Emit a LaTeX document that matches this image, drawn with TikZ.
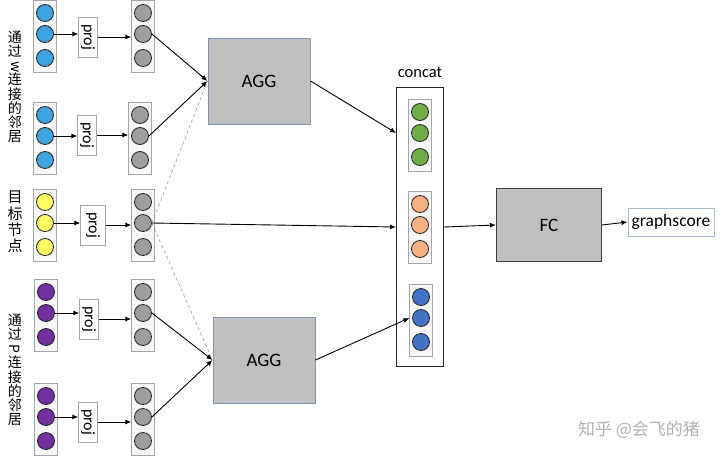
\documentclass[tikz,border=0pt]{standalone}
\usepackage{fontspec}
\setmainfont{Carlito}
\newfontfamily\cjk{Noto Sans CJK SC}
\usetikzlibrary{arrows.meta,positioning}
\definecolor{wblue}{HTML}{3FA3DF}
\definecolor{tyellow}{HTML}{FFFF66}
\definecolor{ppurple}{HTML}{7030A0}
\definecolor{hgray}{HTML}{9E9E9E}
\definecolor{cgreen}{HTML}{70AD47}
\definecolor{corange}{HTML}{F4B183}
\definecolor{cblue}{HTML}{4472C4}
\definecolor{aggline}{HTML}{8497B0}
\definecolor{scoreline}{HTML}{A9BCD0}
% column of three units: name, x, y of middle unit, colour
\newcommand{\vecbox}[4]{%
  \node[vbox] (#1) at (#2,#3+2) {};
  \node[dot,fill=#4] (#1-1) at (#2,#3-21) {};
  \node[dot,fill=#4] (#1-2) at (#2,#3) {};
  \node[dot,fill=#4] (#1-3) at (#2,#3+24) {};
}
\newcommand{\sideways}[1]{\rotatebox[origin=c]{-90}{#1}}

\begin{document}
\begin{tikzpicture}[
    x=1pt, y=-1pt,
    font=\fontsize{12}{14}\selectfont,
    vbox/.style={draw=black!35,fill=black!3,minimum width=23pt,minimum height=72pt,inner sep=0pt},
    dot/.style={circle,draw=black!85,line width=0.8pt,minimum size=17pt,inner sep=0pt},
    projbox/.style={draw=black!35,fill=white,minimum width=19pt,minimum height=40pt,inner sep=0pt,font=\fontsize{16}{18}\selectfont},
    aggbox/.style={draw=aggline,fill=black!25,line width=1pt,minimum width=102pt,minimum height=86pt,font=\fontsize{19}{21}\selectfont},
    arrow/.style={-{Latex[length=6pt,width=5pt]},line width=0.9pt},
    link/.style={black!40,dashed,line width=0.6pt},
    side/.style={font=\cjk\fontsize{14}{14.2}\selectfont,align=center,inner sep=0pt}
  ]
    \useasboundingbox (0,0) rectangle (720,458);

    % neighbours through w
    \vecbox{w1in}{45}{34}{wblue}
    \node[projbox] (w1proj) at (88,37) {\sideways{proj}};
    \vecbox{w1out}{143}{34}{hgray}
    \vecbox{w2in}{45}{136}{wblue}
    \node[projbox] (w2proj) at (87,135) {\sideways{proj}};
    \vecbox{w2out}{140}{136}{hgray}

    % target node
    \vecbox{tin}{45}{223}{tyellow}
    \node[projbox,minimum width=25pt] (tproj) at (93,225) {\sideways{proj}};
    \vecbox{tout}{143}{223}{hgray}

    % neighbours through P
    \vecbox{p1in}{46}{313}{ppurple}
    \node[projbox] (p1proj) at (89,319) {\sideways{proj}};
    \vecbox{p1out}{143}{313}{hgray}
    \vecbox{p2in}{46}{417}{ppurple}
    \node[projbox] (p2proj) at (88,422) {\sideways{proj}};
    \vecbox{p2out}{143}{417}{hgray}

    \node[side] (wlabel) at (15,87) {通\\过\\\sideways{w}\\连\\接\\的\\邻\\居};
    \node[side,font=\cjk\fontsize{15}{16.2}\selectfont] (tlabel) at (15,222) {目\\标\\节\\点};
    \node[side] (plabel) at (15,370) {通\\过\\\sideways{P}\\连\\接\\的\\邻\\居};

    \node[aggbox] (agg1) at (259,81) {AGG};
    \node[aggbox] (agg2) at (264,360) {AGG};

    % concatenated vector
    \node[draw=black!85,fill=white,line width=0.9pt,minimum width=47pt,minimum height=279pt,inner sep=0pt] (cat) at (420,227) {};
    \node[font=\fontsize{16.5}{18}\selectfont,above=6pt of cat] (catlabel) {concat};
    \vecbox{green}{420}{133}{cgreen}
    \vecbox{orange}{420}{225}{corange}
    \vecbox{blue}{421}{318}{cblue}

    \node[draw=black!75,fill=black!25,line width=1pt,minimum width=105pt,minimum height=73pt,font=\fontsize{19}{21}\selectfont] (fc) at (549,225) {FC};
    \node[draw=scoreline,fill=white,line width=1pt,minimum width=86pt,minimum height=28pt,inner sep=2pt,font=\fontsize{17.5}{19}\selectfont] (score) at (671,222) {graphscore};

    \node[text=black!30,font=\cjk\fontsize{17}{19}\selectfont] (mark) at (639,430) {知乎 @会飞的猪};

    \draw[arrow] (w1in-2.east) -- (w1in-2.east -| w1proj.west);
    \draw[arrow] (w1proj.east) -- (w1proj.east -| w1out.west);
    \draw[arrow] (w2in-2.east) -- (w2in-2.east -| w2proj.west);
    \draw[arrow] (w2proj.east) -- (w2proj.east -| w2out.west);
    \draw[arrow] (tin-2.east) -- (tin-2.east -| tproj.west);
    \draw[arrow] (tproj.east) -- (tproj.east -| tout.west);
    \draw[arrow] (p1in-2.east) -- (p1in-2.east -| p1proj.west);
    \draw[arrow] (p1proj.east) -- (p1proj.east -| p1out.west);
    \draw[arrow] (p2in-2.east) -- (p2in-2.east -| p2proj.west);
    \draw[arrow] (p2proj.east) -- (p2proj.east -| p2out.west);

    \draw[arrow] (w1out-2.east) -- (agg1.west);
    \draw[arrow] (w2out-2.east) -- (agg1.west);
    \draw[link] (tout-2.east) -- (agg1.west);
    \draw[link] (tout-2.east) -- (agg2.west);
    \draw[arrow] (p1out-2.east) -- (agg2.west);
    \draw[arrow] (p2out-2.east) -- (agg2.west);

    \draw[arrow] (agg1.east) -- (cat.west |- green-2);
    \draw[arrow] (tout-2.east) -- (cat.west);
    \draw[arrow] (agg2.east) -- (blue.west |- blue-2);
    \draw[arrow] (cat.east) -- (fc.west);
    \draw[arrow] (fc.east) -- (score.west);
  \end{tikzpicture}
\end{document}
